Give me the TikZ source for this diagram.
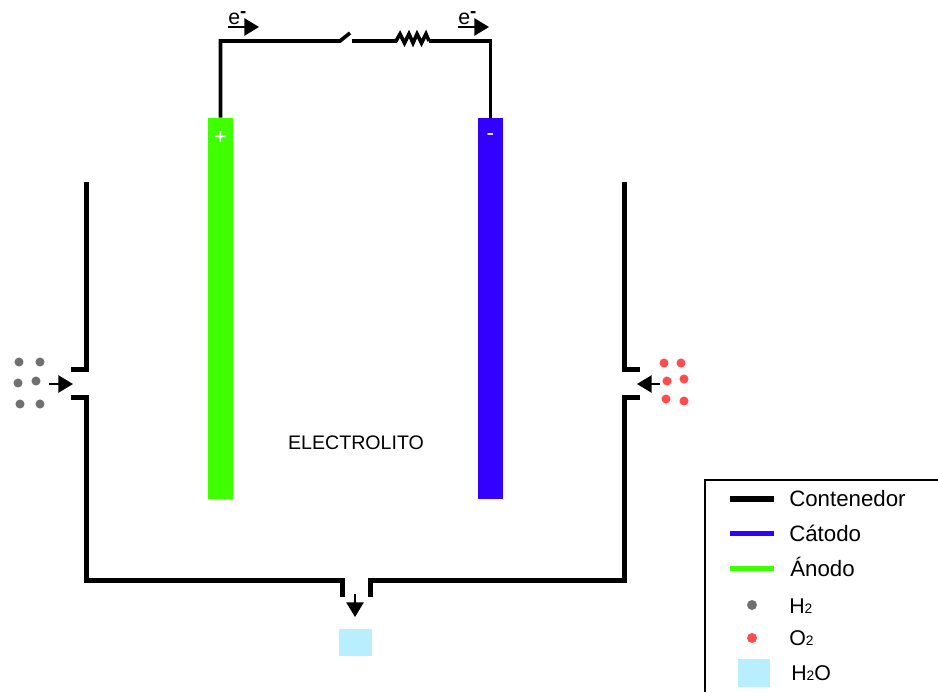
\documentclass[tikz,border=0pt]{standalone}
\usepackage{fontspec}
\setmainfont{Liberation Sans}
\usepackage{xcolor}
\definecolor{cAnode}{HTML}{3FFF00}
\definecolor{cCathode}{HTML}{3300FF}
\definecolor{cHyd}{HTML}{707070}
\definecolor{cOxy}{HTML}{FF4D4D}
\definecolor{cWater}{HTML}{B9EEFF}
\usetikzlibrary{positioning,arrows.meta}
\tikzset{
  node-electrode/.style={minimum width=18.75pt,minimum height=285.75pt,inner sep=0pt},
  node-water/.style={fill=cWater,inner sep=0pt},
  node-label/.style={inner sep=0pt,font=\fontsize{14.7pt}{16pt}\selectfont},
  node-legend/.style={inner sep=0pt,anchor=west,font=\fontsize{16.7pt}{18pt}\selectfont},
  node-gas/.style={inner sep=0pt,anchor=west,font=\fontsize{16pt}{18pt}\selectfont},
  node-sign/.style={inner sep=0pt,text=white,font=\fontsize{17pt}{18pt}\selectfont},
  node-dot/.style={circle,inner sep=0pt,minimum size=6.8pt},
  dot-hyd/.style={node-dot,fill=cHyd},
  dot-oxy/.style={node-dot,fill=cOxy},
  wire/.style={line width=2.7pt,draw=black},
  wall/.style={line width=3.75pt,draw=black},
  arrow/.style={-{Triangle[length=11pt,width=13pt]},line width=1.2pt,draw=black},
  legend-line/.style={line width=3.75pt},
}
\newcommand{\subtwo}{{\fontsize{10.3pt}{12pt}\selectfont 2}}
\newcommand{\elec}{e\raisebox{0.3em}{\fontsize{14pt}{14pt}\selectfont\bfseries -}}
\begin{document}
\begin{tikzpicture}[x=0.75pt,y=-0.75pt]
  \useasboundingbox (0,0) rectangle (938,692);
  % electrodes
  \node[node-electrode,fill=cAnode] (an) at (220.5,308.5) {};
  \node[node-electrode,fill=cCathode] (ca) at (490.5,308.5) {};
  \node[node-sign] (anS) at (220.5,138) {+};
  \node[node-sign] (caS) at (490.5,137) {-};
  \node[node-label] (elecT) at (356,442.5) {ELECTROLITO};
  % outer circuit
  \coordinate (swL) at (340,41);
  \coordinate (swT) at (350,33);
  \coordinate (swR) at (352,41);
  \coordinate (reL) at (396,41);
  \coordinate (reR) at (429,41);
  \draw[wire] (an.north) |- (swL) -- (swT);
  \draw[wire] (swR) -- (reL) -- (400,34) -- (404.5,43) -- (409,34) -- (413,43) -- (417,34) -- (421.5,43) -- (426,34) -- (reR);
  \draw[wire] (reR) -| (ca.north);
  % electrons
  \node[node-label,font=\fontsize{16pt}{16pt}\selectfont,anchor=west] (e1) at (228,18) {\elec};
  \node[node-label,font=\fontsize{16pt}{16pt}\selectfont,anchor=west] (e2) at (458,18) {\elec};
  \coordinate (e1a) at (228,27);
  \coordinate (e1b) at (259,27);
  \coordinate (e2a) at (458,27);
  \coordinate (e2b) at (489,27);
  \draw[arrow] (e1a) -- (e1b);
  \draw[arrow] (e2a) -- (e2b);
  % container
  \coordinate (wLt) at (86.5,182);
  \coordinate (wLa) at (71,369);
  \coordinate (wLb) at (71,397);
  \coordinate (wRt) at (624.5,182);
  \coordinate (wRa) at (640,369);
  \coordinate (wRb) at (640,397);
  \coordinate (wBl) at (342,597);
  \coordinate (wBr) at (370,597);
  \draw[wall] (wLt) |- (wLa);
  \draw[wall] (wRt) |- (wRa);
  \draw[wall] (wLb) -| (86.5,580) -| (wBl);
  \draw[wall] (wRb) -| (624.5,580) -| (wBr);
  % inlets and outlet
  \coordinate (h2a) at (49,384);
  \coordinate (h2b) at (73,384);
  \coordinate (o2a) at (660,384);
  \coordinate (o2b) at (637,384);
  \coordinate (waA) at (355,594);
  \coordinate (waB) at (355,617);
  \draw[arrow] (h2a) -- (h2b);
  \draw[arrow] (o2a) -- (o2b);
  \draw[arrow] (waA) -- (waB);
  \node[node-water,minimum width=24.75pt,minimum height=20.25pt] (wa) at (355.5,642.5) {};
  % gases
  \foreach \x/\y [count=\i] in {19/362,40/362,18/383,36/381,20/404,40/404}
    \node[dot-hyd] (h\i) at (\x,\y) {};
  \foreach \x/\y [count=\i] in {664/363,681/363,667/381,684/379,666/399,684/401}
    \node[dot-oxy] (o\i) at (\x,\y) {};
  % legend
  \coordinate (lgA) at (705,692);
  \coordinate (lgB) at (705,480);
  \coordinate (lgC) at (938,480);
  \draw[line width=1pt] (lgA) -- (lgB) -- (lgC);
  \coordinate (l1a) at (730,499);
  \coordinate (l1b) at (774,499);
  \coordinate (l2a) at (730,533);
  \coordinate (l2b) at (774,533);
  \coordinate (l3a) at (730,568);
  \coordinate (l3b) at (774,568);
  \draw[legend-line,line width=4.9pt] (l1a) -- (l1b);
  \draw[legend-line,draw=cCathode] (l2a) -- (l2b);
  \draw[legend-line,draw=cAnode] (l3a) -- (l3b);
  \node[node-legend] (t1) at (789,498.5) {Contenedor};
  \node[node-legend] (t2) at (789,533.5) {Cátodo};
  \node[node-legend] (t3) at (790,567) {Ánodo};
  \node[dot-hyd,minimum size=7.5pt] (lH) at (752,605) {};
  \node[dot-oxy,minimum size=7.5pt] (lO) at (752,638) {};
  \node[node-water,minimum width=24pt,minimum height=21pt] (lW) at (754,673) {};
  \node[node-gas] (t4) at (789,606) {H\subtwo};
  \node[node-gas] (t5) at (789,638) {O\subtwo};
  \node[node-gas] (t6) at (791,673) {H\subtwo O};
\end{tikzpicture}
\end{document}
